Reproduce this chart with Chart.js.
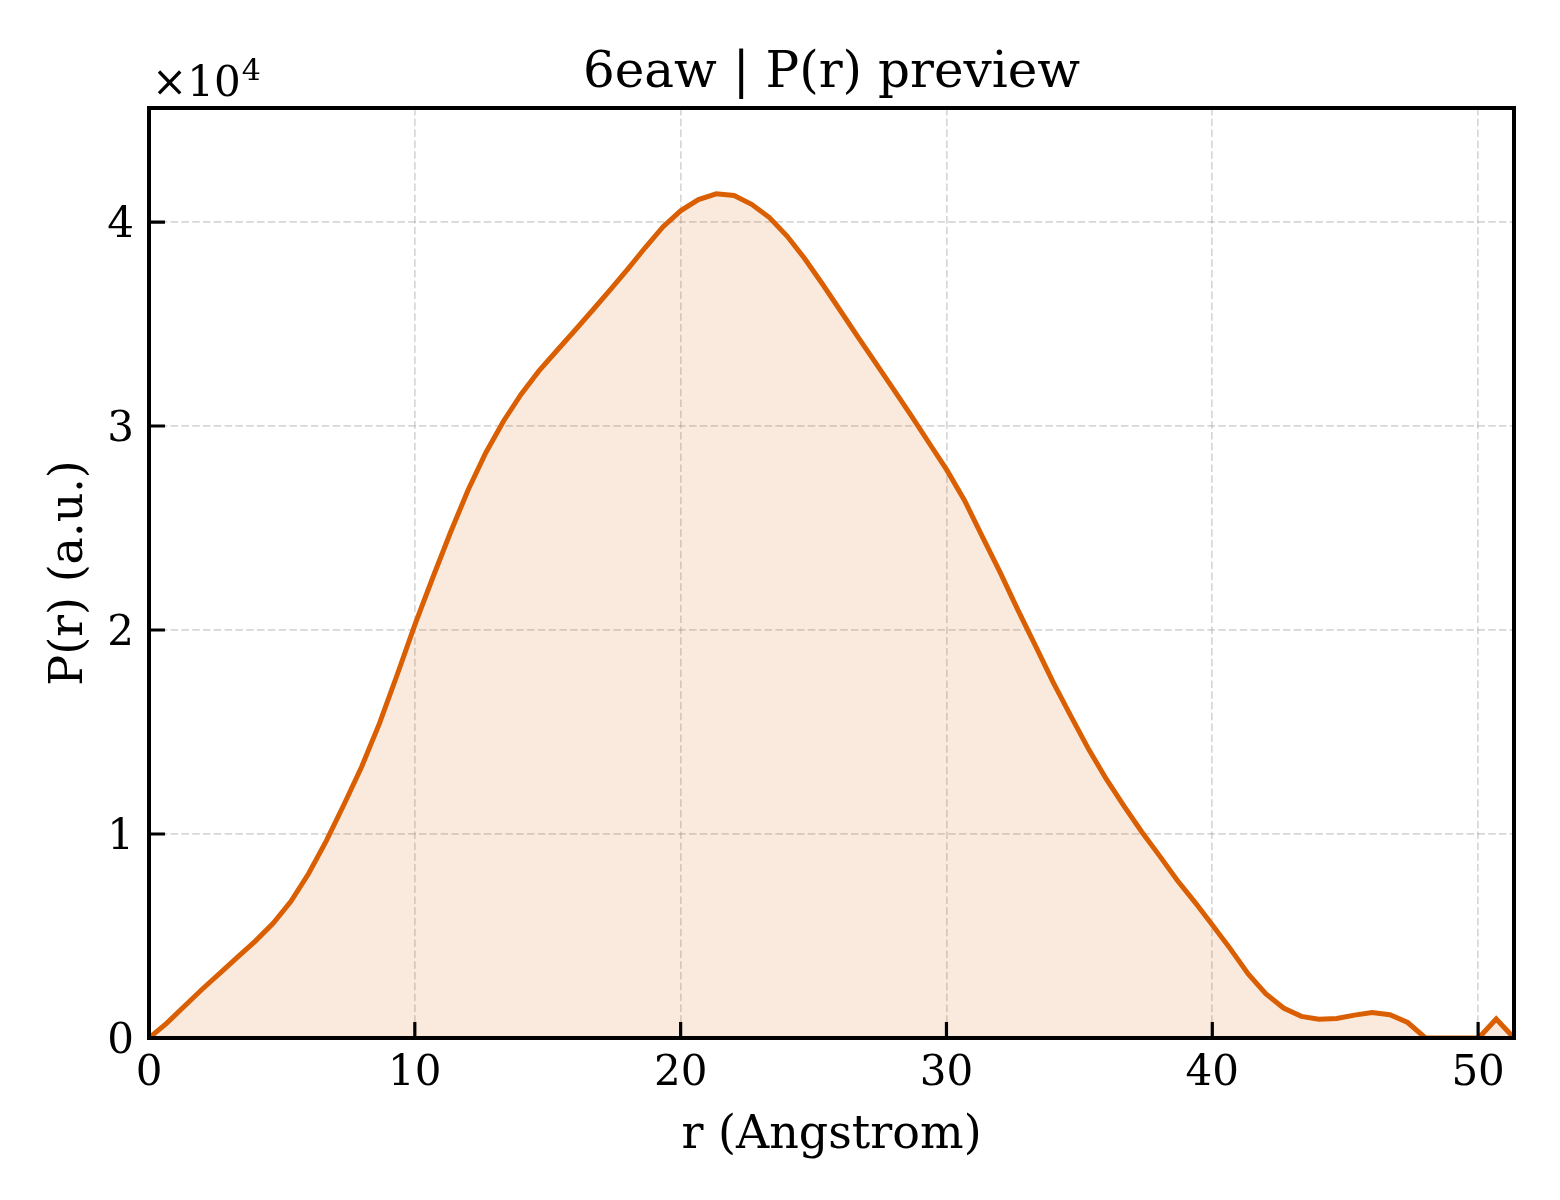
<!DOCTYPE html>
<html>
<head>
<meta charset="utf-8">
<script src="https://cdn.jsdelivr.net/npm/chart.js@4/dist/chart.umd.min.js"></script>
<style>
  html, body { margin: 0; padding: 0; background: #fff; }
  canvas { display: block; }
</style>
</head>
<body>
<canvas id="pr" width="1560" height="1200"></canvas>
<script>
const rValues = [
  0.00, 0.67, 1.33, 2.00, 2.67, 3.33, 4.00, 4.67, 5.34, 6.00,
  6.67, 7.34, 8.00, 8.67, 9.34, 10.00, 10.67, 11.34, 12.00, 12.67,
  13.34, 14.00, 14.67, 15.34, 16.01, 16.67, 17.34, 18.01, 18.67, 19.34,
  20.01, 20.67, 21.34, 22.01, 22.67, 23.34, 24.01, 24.67, 25.34, 26.01,
  26.68, 27.34, 28.01, 28.68, 29.34, 30.01, 30.68, 31.34, 32.01, 32.68,
  33.34, 34.01, 34.68, 35.35, 36.01, 36.68, 37.35, 38.01, 38.68, 39.35,
  40.01, 40.68, 41.35, 42.01, 42.68, 43.35, 44.01, 44.68, 45.35, 46.01,
  46.68, 47.35, 48.02, 48.68, 49.35, 50.02, 50.68, 51.35
];
const prValues = [
  0, 730, 1560, 2390, 3180, 3960, 4750, 5620, 6700, 8050,
  9660, 11460, 13300, 15420, 17820, 20250, 22550, 24780, 26850, 28690,
  30250, 31560, 32700, 33690, 34670, 35650, 36660, 37690, 38750, 39770,
  40560, 41100, 41380, 41300, 40870, 40220, 39300, 38200, 36950, 35650,
  34350, 33080, 31800, 30500, 29180, 27850, 26350, 24600, 22850, 21000,
  19250, 17450, 15780, 14150, 12700, 11370, 10100, 8940, 7730, 6650,
  5530, 4370, 3140, 2170, 1470, 1060, 920, 960, 1120, 1250,
  1140, 760, 0, 0, 0, 0, 930, 0
];
const xTicks = [0, 10, 20, 30, 40, 50];
const yTicks = [0, 10000, 20000, 30000, 40000];
const yTickLabels = ['0', '1', '2', '3', '4'];

const SERIF = '"DejaVu Serif", "Liberation Serif", serif';
const LINE = '#D95F02';

// frame, inward ticks, title and the x10^4 offset text
const decor = {
  id: 'decor',
  afterDraw(chart) {
    const {ctx, chartArea: a, scales} = chart;
    ctx.save();
    ctx.strokeStyle = '#000';
    ctx.lineWidth = 3.2;
    ctx.beginPath();
    xTicks.forEach(v => {
      const x = scales.x.getPixelForValue(v);
      ctx.moveTo(x, a.bottom);
      ctx.lineTo(x, a.bottom - 16);
    });
    yTicks.forEach(v => {
      const y = scales.y.getPixelForValue(v);
      ctx.moveTo(a.left, y);
      ctx.lineTo(a.left + 16, y);
    });
    ctx.stroke();

    ctx.lineWidth = 4;
    ctx.strokeRect(a.left, a.top, a.right - a.left, a.bottom - a.top);

    ctx.fillStyle = '#000';
    ctx.textBaseline = 'alphabetic';
    ctx.textAlign = 'center';
    ctx.font = '50px ' + SERIF;
    ctx.fillText('6eaw | P(r) preview', (a.left + a.right) / 2, 87);

    ctx.textAlign = 'left';
    ctx.font = '42px ' + SERIF;
    const base = '\u00d710';
    ctx.fillText(base, a.left + 3, 96);
    const w = ctx.measureText(base).width;
    ctx.font = '30px ' + SERIF;
    ctx.fillText('4', a.left + 3 + w + 1, 80);
    ctx.restore();
  }
};

const gridStyle = {
  color: 'rgba(150,150,150,0.38)',
  lineWidth: 1.7,
  drawTicks: false
};

new Chart(document.getElementById('pr'), {
  type: 'line',
  data: {
    datasets: [{
      label: 'P(r)',
      data: rValues.map((r, i) => ({x: r, y: prValues[i]})),
      borderColor: LINE,
      backgroundColor: 'rgba(217,95,2,0.13)',
      borderWidth: 5,
      pointRadius: 0,
      tension: 0,
      fill: 'origin'
    }]
  },
  options: {
    responsive: false,
    animation: false,
    devicePixelRatio: 1,
    layout: {padding: {top: 108, right: 46, left: 0, bottom: 0}},
    plugins: {
      legend: {display: false},
      title: {display: false},
      tooltip: {enabled: false}
    },
    scales: {
      x: {
        type: 'linear',
        min: 0,
        max: rValues[rValues.length - 1],
        afterBuildTicks: s => { s.ticks = xTicks.map(v => ({value: v})); },
        afterFit: s => { s.height = 162; },
        grid: gridStyle,
        border: {display: false, dash: [7.5, 3.3]},
        ticks: {
          autoSkip: false,
          maxRotation: 0,
          padding: 15,
          color: '#000',
          font: {family: SERIF, size: 42, lineHeight: 1}
        },
        title: {
          display: true,
          text: 'r (Angstrom)',
          color: '#000',
          font: {family: SERIF, size: 46, lineHeight: 1},
          padding: {top: 0, bottom: 41}
        }
      },
      y: {
        type: 'linear',
        min: 0,
        max: 45590,
        afterBuildTicks: s => { s.ticks = yTicks.map(v => ({value: v})); },
        afterFit: s => { s.width = 149; },
        grid: gridStyle,
        border: {display: false, dash: [7.5, 3.3]},
        ticks: {
          autoSkip: false,
          padding: 15,
          labelOffset: 4,
          color: '#000',
          font: {family: SERIF, size: 42, lineHeight: 1},
          callback: (v) => yTickLabels[yTicks.indexOf(v)]
        },
        title: {
          display: true,
          text: 'P(r) (a.u.)',
          color: '#000',
          font: {family: SERIF, size: 46, lineHeight: 1},
          padding: {top: 47, bottom: 0}
        }
      }
    }
  },
  plugins: [decor]
});
</script>
</body>
</html>
